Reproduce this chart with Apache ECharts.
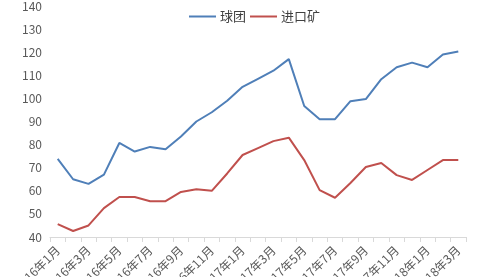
<!DOCTYPE html>
<html><head><meta charset="utf-8">
<script src="https://cdn.jsdelivr.net/npm/echarts@6/dist/echarts.min.js"></script>
<style>html,body{margin:0;padding:0;background:#fff}#c{width:480px;height:277px}</style>
</head><body><div id="c"></div>
<script>
const categories = ['2016年1月','2016年2月','2016年3月','2016年4月','2016年5月','2016年6月','2016年7月','2016年8月','2016年9月','2016年10月','2016年11月','2016年12月','2017年1月','2017年2月','2017年3月','2017年4月','2017年5月','2017年6月','2017年7月','2017年8月','2017年9月','2017年10月','2017年11月','2017年12月','2018年1月','2018年2月','2018年3月'];
const pellet = [73.8,65,63,67,80.7,77,79,78,83.5,90,94,99,105,108.5,112,117,96.7,91,91,98.8,99.7,108.3,113.5,115.5,113.5,119,120.3];
const importOre = [45.6,42.6,45,52.5,57.3,57.3,55.5,55.5,59.5,60.7,60,67.5,75.5,78.5,81.5,83,73.3,60.3,57,63.4,70.3,72,66.8,64.7,69,73.3,73.3];
const seriesNames = ['球团','进口矿'];
const chart = echarts.init(document.getElementById('c'));
const font = '"Noto Sans CJK SC", "Microsoft YaHei", sans-serif';
chart.setOption({
  animation:false,
  textStyle:{fontFamily:font},
  legend:{top:5,left:184,itemWidth:27,itemHeight:2,icon:'rect',itemGap:4,
    textStyle:{fontFamily:font,fontSize:13,color:'#404040',padding:[0,0,0,-1]},data:seriesNames},
  grid:{left:50,right:14,top:6,bottom:40,containLabel:false,outerBoundsMode:'none'},
  xAxis:{type:'category',data:categories,boundaryGap:true,
    axisLine:{lineStyle:{color:'#d9d9d9'}},
    axisTick:{show:true,alignWithLabel:false,interval:0,lineStyle:{color:'#d9d9d9'}},
    axisLabel:{interval:1,rotate:45,fontSize:12,color:'#595959',fontFamily:font,margin:11}},
  yAxis:{type:'value',min:40,max:140,interval:10,
    axisLine:{show:false},axisTick:{show:false},splitLine:{show:false},
    axisLabel:{fontSize:12,color:'#595959',margin:8}},
  series:[
    {name:seriesNames[0],type:'line',data:pellet,symbol:'none',lineStyle:{width:2,color:'#4F7FB8'},itemStyle:{color:'#4F7FB8'}},
    {name:seriesNames[1],type:'line',data:importOre,symbol:'none',lineStyle:{width:2,color:'#C0504D'},itemStyle:{color:'#C0504D'}}
  ]
});
</script></body></html>
